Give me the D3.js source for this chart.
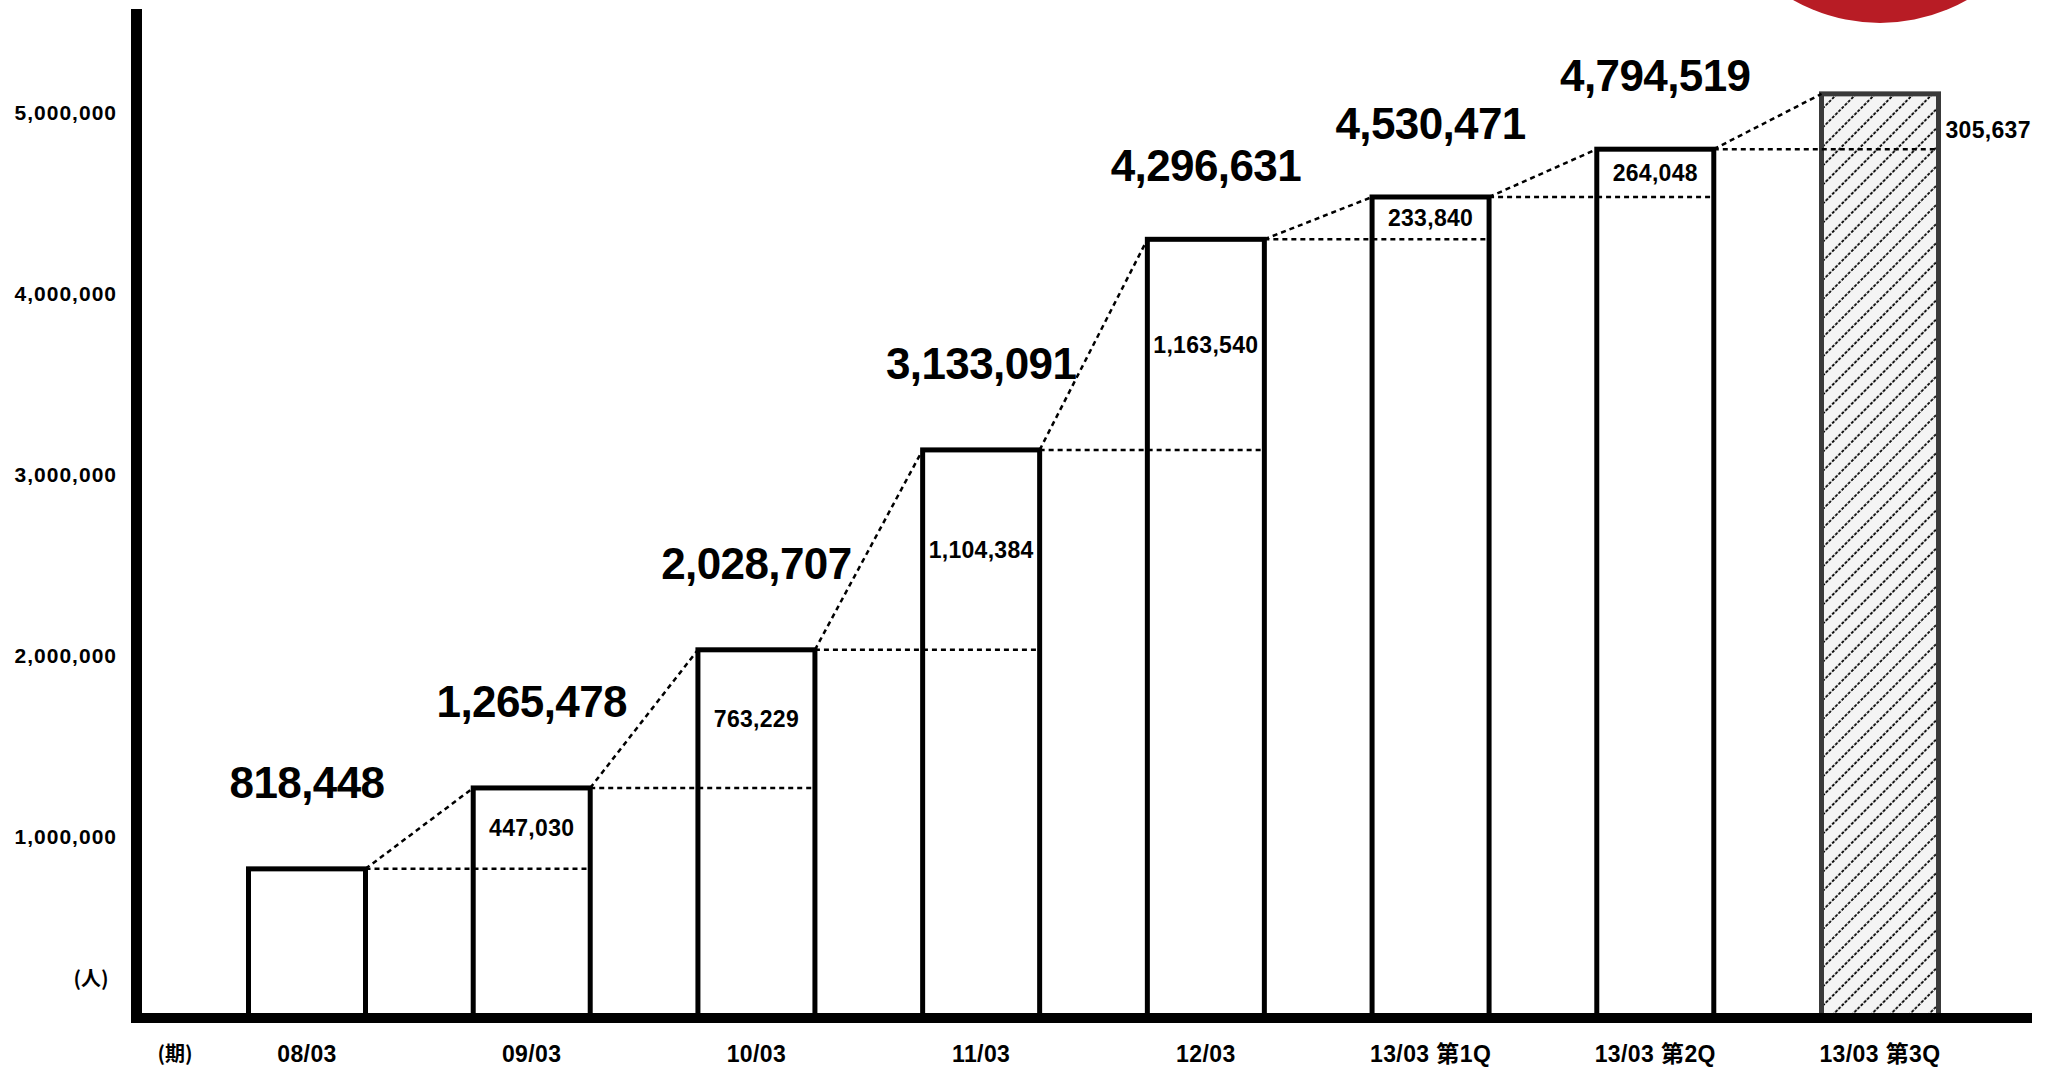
<!DOCTYPE html>
<html>
<head>
<meta charset="utf-8">
<script src="https://cdn.jsdelivr.net/npm/d3@7"></script>
<style>
  html, body { margin: 0; padding: 0; background: #fff; }
  svg { display: block; }
  text { font-family: "Liberation Sans", Arial, "Noto Sans CJK JP", sans-serif; font-weight: bold; fill: #000; }
</style>
</head>
<body>
<svg id="chart" width="2056" height="1067"></svg>
<script>
// Period categories along the x axis
const periods = ["08/03", "09/03", "10/03", "11/03", "12/03", "13/03 第1Q", "13/03 第2Q", "13/03 第3Q"];
// Cumulative totals (people) shown above each bar; the last period is a projection
const totals = [818448, 1265478, 2028707, 3133091, 4296631, 4530471, 4794519, null];
// Increase over the previous period
const increments = [null, 447030, 763229, 1104384, 1163540, 233840, 264048, 305637];
// Y axis tick values
const yTicks = [1000000, 2000000, 3000000, 4000000, 5000000];
const yUnit = "(人)";
const xUnit = "(期)";

// Resolve totals: the projected bar is the previous total plus its increment
const values = totals.map((t, i) => t !== null ? t : totals[i - 1] + increments[i]);
const rows = periods.map((p, i) => ({
  period: p, total: values[i], prev: i > 0 ? values[i - 1] : null,
  inc: increments[i], showTotal: totals[i] !== null, projected: totals[i] === null
}));

const svg = d3.select("#chart");
const fmt = d3.format(",");

const x = d3.scalePoint().domain(periods).range([307, 1880]);
const y = d3.scaleLinear().domain([0, 5000000]).range([1017, 112]);
const barW = 117;

// Hatch pattern for the projected bar
const defs = svg.append("defs");
const pat = defs.append("pattern")
  .attr("id", "hatch").attr("patternUnits", "userSpaceOnUse")
  .attr("width", 13.5).attr("height", 13.5)
  .attr("patternTransform", "rotate(45)");
pat.append("rect").attr("width", 13.5).attr("height", 13.5).attr("fill", "#f4f4f4");
pat.append("line").attr("x1", 2).attr("x2", 2).attr("y1", 0).attr("y2", 13.5)
  .attr("stroke", "#000").attr("stroke-width", 1.8).attr("stroke-dasharray", "3,1.5");

// Red badge at the top right
svg.append("circle")
  .attr("cx", x(periods[periods.length - 1])).attr("cy", -153).attr("r", 176)
  .attr("fill", "#b81c25");

// Y axis tick labels
svg.append("g").selectAll("text").data(yTicks).join("text")
  .attr("x", 117).attr("y", d => y(d))
  .attr("text-anchor", "end").attr("dominant-baseline", "central")
  .attr("font-size", 21).attr("letter-spacing", 1)
  .text(d => fmt(d));

svg.append("text").attr("x", 91).attr("y", 977)
  .attr("text-anchor", "middle").attr("dominant-baseline", "central")
  .attr("font-size", 20).style("font-family", "'Noto Sans CJK JP', sans-serif")
  .text(yUnit);

// Connector lines between successive bars
const conn = svg.append("g").attr("fill", "none").attr("stroke", "#000")
  .attr("stroke-width", 2.5).attr("stroke-dasharray", "5,4");
rows.slice(0, -1).forEach((d, i) => {
  const n = rows[i + 1];
  const xr = x(d.period) + barW / 2;
  conn.append("line")
    .attr("x1", xr).attr("y1", y(d.total))
    .attr("x2", x(n.period) + barW / 2).attr("y2", y(d.total));
  conn.append("line")
    .attr("x1", xr).attr("y1", y(d.total))
    .attr("x2", x(n.period) - barW / 2).attr("y2", y(n.total));
});

// Bars
svg.append("g").selectAll("rect").data(rows).join("rect")
  .attr("x", d => x(d.period) - barW / 2)
  .attr("y", d => y(d.total))
  .attr("width", barW)
  .attr("height", d => y(0) - y(d.total))
  .attr("fill", d => d.projected ? "url(#hatch)" : "none")
  .attr("stroke", d => d.projected ? "#3a3a3a" : "#000")
  .attr("stroke-width", 5);

// Keep the dotted level line visible across the hatched bar
conn.raise();

// Total labels above bars
svg.append("g").selectAll("text").data(rows.filter(d => d.showTotal)).join("text")
  .attr("x", d => x(d.period))
  .attr("y", d => y(d.total) - (d.total > 4000000 ? 58 : 71))
  .attr("text-anchor", "middle")
  .attr("font-size", 44).attr("letter-spacing", -0.6)
  .text(d => fmt(d.total));

// Increment labels
svg.append("g").selectAll("text").data(rows.filter(d => d.inc !== null)).join("text")
  .attr("x", d => d.projected ? x(d.period) + barW / 2 + 7 : x(d.period))
  .attr("y", d => (y(d.total) + y(d.prev)) / 2 + (d.projected ? 8 : 0))
  .attr("text-anchor", d => d.projected ? "start" : "middle")
  .attr("dominant-baseline", "central")
  .attr("font-size", 23).attr("letter-spacing", 0.3)
  .text(d => fmt(d.inc));

// Axes lines
svg.append("line").attr("x1", 136.5).attr("x2", 136.5).attr("y1", 9).attr("y2", 1023)
  .attr("stroke", "#000").attr("stroke-width", 11);
svg.append("line").attr("x1", 131).attr("x2", 2032).attr("y1", 1018).attr("y2", 1018)
  .attr("stroke", "#000").attr("stroke-width", 10);

// X axis labels
svg.append("g").selectAll("text").data(periods).join("text")
  .attr("x", d => x(d)).attr("y", 1062)
  .attr("text-anchor", "middle").attr("font-size", 23).attr("letter-spacing", 0.4)
  .text(d => d);

svg.append("text").attr("x", 175).attr("y", 1061)
  .attr("text-anchor", "middle").attr("font-size", 20)
  .style("font-family", "'Noto Sans CJK JP', sans-serif")
  .text(xUnit);
</script>
</body>
</html>
